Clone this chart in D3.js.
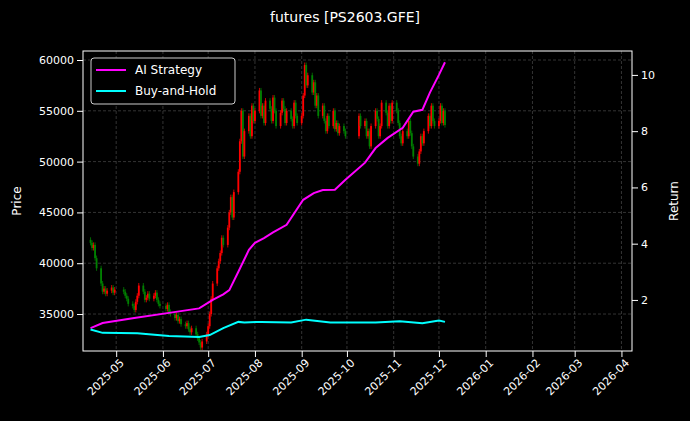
<!DOCTYPE html>
<html><head><meta charset="utf-8">
<script src="https://cdn.jsdelivr.net/npm/d3@7"></script>
<style>body{margin:0;background:#000}svg{display:block}text{font-family:"DejaVu Sans",sans-serif}</style>
</head><body><svg id="c" width="690" height="421"></svg>
<script>
const title = "futures [PS2603.GFE]";
const startDay = "2025-04-14", endDay = "2025-12-05";
const holidays = ["2025-05-01","2025-05-02","2025-05-05","2025-06-02","2025-10-01","2025-10-02","2025-10-03","2025-10-06","2025-10-07","2025-10-08"];
const closes = [42000,41500,41800,40500,39500,38000,37200,37500,37000,37300,37600,37100,37400,
37200,36800,36500,36000,35800,35400,36200,36800,37800,37200,36400,36600,37000,36500,36800,37100,36400,36000,35800,
35500,35900,35200,35000,34600,34900,34300,34500,34000,33800,34100,33500,33200,33600,33000,32600,32200,31700,32300,33000,
33800,35000,36500,38000,39500,40200,41000,42500,41800,43500,45000,46500,44500,47000,49000,52000,55000,50500,53000,54500,52500,55500,54000,
55000,57000,54500,55500,53800,56000,55200,54000,56300,55000,53500,54800,56000,55200,53800,55000,54200,53500,55800,54500,53800,
54500,56500,59500,57500,58500,56800,57800,55500,56500,54500,55500,54000,53000,54500,53500,55000,53200,53800,52800,53500,53000,52500,
54500,53500,54000,52500,53000,51500,53500,55000,54200,52500,53500,55800,54800,53500,55500,54000,55800,
55000,53800,52500,51800,53000,52500,54000,52800,51500,50500,49800,51000,52500,51800,53000,54500,53500,55500,54000,53500,
54000,55500,53800,55000,53600];
const aiDates = ["2025-04-14","2025-04-22","2025-05-13","2025-06-05","2025-06-25","2025-07-04","2025-07-11","2025-07-15","2025-07-21","2025-07-28","2025-08-01","2025-08-07","2025-08-13","2025-08-22","2025-09-02","2025-09-09","2025-09-15","2025-09-23","2025-09-30","2025-10-13","2025-10-20","2025-10-28","2025-11-07","2025-11-14","2025-11-20","2025-11-25","2025-12-01","2025-12-05"];
const aiValues = [1.0,1.18,1.36,1.54,1.7,2.0,2.2,2.35,3.0,3.78,4.03,4.2,4.4,4.67,5.56,5.8,5.91,5.92,6.27,6.88,7.4,7.76,8.12,8.69,8.76,9.37,10.0,10.45];
const bhDates = ["2025-04-14","2025-04-22","2025-05-15","2025-06-05","2025-06-25","2025-07-02","2025-07-11","2025-07-21","2025-07-25","2025-08-05","2025-08-25","2025-09-04","2025-09-20","2025-10-20","2025-11-05","2025-11-20","2025-12-01","2025-12-05"];
const bhValues = [0.95,0.83,0.82,0.72,0.68,0.75,1.0,1.22,1.2,1.22,1.2,1.3,1.2,1.2,1.24,1.17,1.27,1.22];
const leftTicks = [35000,40000,45000,50000,55000,60000];
const rightTicks = [2,4,6,8,10];

const parse = d3.utcParse("%Y-%m-%d"), fmt = d3.utcFormat("%Y-%m-%d");
const hs = new Set(holidays);
const days = d3.utcDays(parse(startDay), d3.utcDay.offset(parse(endDay),1)).filter(d=>d.getUTCDay()%6!==0 && !hs.has(fmt(d)));
const candles = days.map((d,i)=>({d, o: i? closes[i-1] : closes[0]+300, c: closes[i]}));

const svg = d3.select("#c");
svg.append("rect").attr("width",690).attr("height",421).attr("fill","#000");
const L=83,R=632,T=51,B=351;
const x = d3.scaleUtc().domain([parse("2025-04-09"), parse("2026-04-08")]).range([L,R]);
const y = d3.scaleLinear().domain([31360,60886]).range([B,T]);
const y2 = d3.scaleLinear().domain([0.185,10.85]).range([B,T]);
const months = d3.utcMonth.range(parse("2025-05-01"), parse("2026-04-02"));

const g = svg.append("g");
g.selectAll(".vg").data(months).join("line").attr("x1",d=>x(d)).attr("x2",d=>x(d)).attr("y1",T).attr("y2",B)
 .attr("stroke","#555").attr("stroke-dasharray","3,2").attr("stroke-width",0.6);
g.selectAll(".hg").data(leftTicks).join("line").attr("x1",L).attr("x2",R).attr("y1",d=>y(d)).attr("y2",d=>y(d))
 .attr("stroke","#555").attr("stroke-dasharray","3,2").attr("stroke-width",0.6);

const cl = svg.append("g");
candles.forEach(k=>{
  const col = k.c>=k.o ? "#ff0000" : "#008000";
  const hi = Math.max(k.o,k.c)+250, lo = Math.min(k.o,k.c)-250;
  cl.append("line").attr("x1",x(k.d)).attr("x2",x(k.d)).attr("y1",y(hi)).attr("y2",y(lo)).attr("stroke",col).attr("stroke-width",0.8);
  cl.append("rect").attr("x",x(k.d)-0.9).attr("width",1.8).attr("y",y(Math.max(k.o,k.c))).attr("height",Math.max(0.8,Math.abs(y(k.o)-y(k.c)))).attr("fill",col);
});
const line = d3.line().x(d=>x(d[0])).y(d=>y2(d[1]));
svg.append("path").datum(aiDates.map((d,i)=>[parse(d),aiValues[i]])).attr("d",line).attr("fill","none").attr("stroke","#ff00ff").attr("stroke-width",2);
svg.append("path").datum(bhDates.map((d,i)=>[parse(d),bhValues[i]])).attr("d",line).attr("fill","none").attr("stroke","#00ffff").attr("stroke-width",2);

svg.append("rect").attr("x",L).attr("y",T).attr("width",R-L).attr("height",B-T).attr("fill","none").attr("stroke","#fff").attr("stroke-width",1);

const ax = svg.append("g").attr("transform",`translate(0,${B})`).call(d3.axisBottom(x).tickValues(months).tickFormat(d3.utcFormat("%Y-%m")).tickSizeOuter(0));
ax.selectAll("text").attr("transform","rotate(-45)").style("text-anchor","end").attr("dx","-0.3em").attr("dy","0.5em");
const ay = svg.append("g").attr("transform",`translate(${L},0)`).call(d3.axisLeft(y).tickValues(leftTicks).tickFormat(d3.format("d")).tickSizeOuter(0));
const ay2 = svg.append("g").attr("transform",`translate(${R},0)`).call(d3.axisRight(y2).tickValues(rightTicks).tickSizeOuter(0));
[ax,ay,ay2].forEach(a=>{a.select(".domain").remove();a.selectAll("line").attr("stroke","#fff");a.selectAll("text").attr("fill","#fff").style("font-size","11px");});

svg.append("text").attr("x",345).attr("y",22).attr("text-anchor","middle").attr("fill","#fff").style("font-size","14px").text(title);
svg.append("text").attr("transform","translate(21,201) rotate(-90)").attr("text-anchor","middle").attr("fill","#fff").style("font-size","12px").text("Price");
svg.append("text").attr("transform","translate(678,201) rotate(-90)").attr("text-anchor","middle").attr("fill","#fff").style("font-size","12px").text("Return");

const lg = svg.append("g");
lg.append("rect").attr("x",91).attr("y",58).attr("width",144).attr("height",46).attr("rx",3).attr("fill","#000").attr("stroke","#ccc");
[["AI Strategy","#ff00ff"],["Buy-and-Hold","#00ffff"]].forEach((e,i)=>{
  lg.append("line").attr("x1",96).attr("x2",126).attr("y1",70+i*21).attr("y2",70+i*21).attr("stroke",e[1]).attr("stroke-width",2);
  lg.append("text").attr("x",135).attr("y",74+i*21).attr("fill","#fff").style("font-size","12px").text(e[0]);
});
</script></body></html>
